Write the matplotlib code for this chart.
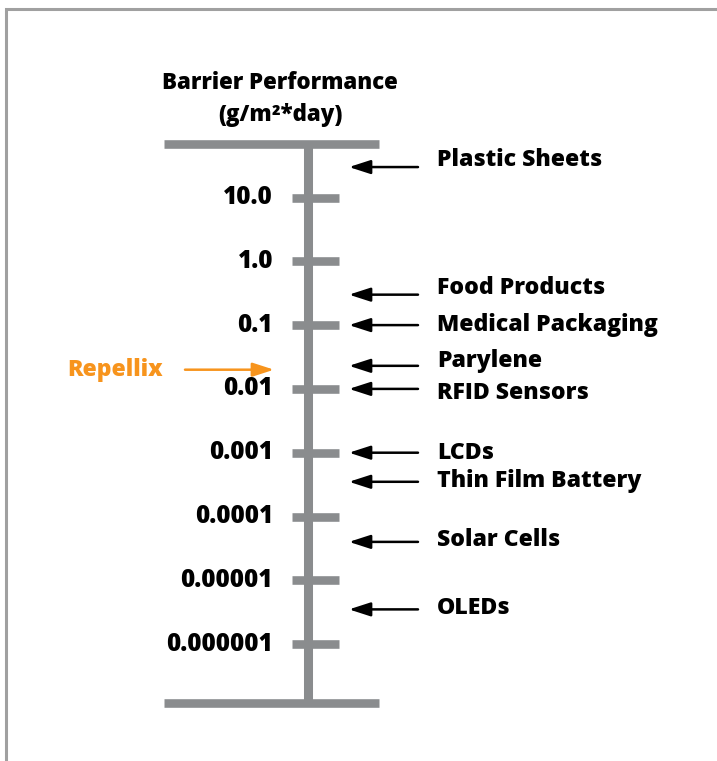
import matplotlib
matplotlib.use("Agg")
import matplotlib.pyplot as plt
from matplotlib.patches import Rectangle

# ---- data ----
scale_ticks = [10, 1, 0.1, 0.01, 0.001, 1e-4, 1e-5, 1e-6]
tick_labels = ["10.0", "1.0", "0.1", "0.01", "0.001", "0.0001", "0.00001", "0.000001"]
applications = ["Plastic Sheets", "Food Products", "Medical Packaging", "Parylene",
                "RFID Sensors", "LCDs", "Thin Film Battery", "Solar Cells", "OLEDs"]
app_values = [30, 0.3, 0.1, 0.023, 0.01, 0.001, 0.00035, 4e-5, 3.5e-6]
repellix_label = "Repellix"
repellix_value = 0.02
title_lines = ["Barrier Performance", "(g/m²*day)"]

# ---- style ----
W, H = 717, 761
GRAY = "#8a8c8e"
ORANGE = "#f7941d"
FONT = ["Open Sans", "DejaVu Sans"]
FS = 16.6
FS_TICK = 17.5
FS_TITLE = 16.0
WEIGHT = 800
ARROW = "-|>,head_length=1.3,head_width=0.42"
label_dy = [-7, -7, 0, -5, 4, 0, -1, -2, -1]  # pixel offsets of labels vs arrows

fig = plt.figure(figsize=(W / 100, H / 100), dpi=100)
ax = fig.add_axes([0, 0, 1, 1])
ax.set_yscale("log")
ax.set_xlim(0, W)
dec = 63.8
top_log = 1 + 197.5 / dec
bot_log = 1 - (H - 197.5) / dec
ax.set_ylim(10 ** bot_log, 10 ** top_log)
ax.axis("off")

# frame border
fig.patches.append(Rectangle((6 / W, -0.2), 1.2, 1.2 - 9 / H, transform=fig.transFigure,
                             fill=False, edgecolor="#a0a0a0", linewidth=2.2))

# scale structure
top_v = 10 ** (1 + (197.5 - 144) / dec)
bot_v = 10 ** (1 - (703.3 - 197.5) / dec)
ax.plot([307.5, 307.5], [bot_v, top_v], color=GRAY, lw=6.5, solid_capstyle="butt")
ax.plot([164, 379], [top_v, top_v], color=GRAY, lw=6.2, solid_capstyle="butt")
ax.plot([164, 379], [bot_v, bot_v], color=GRAY, lw=6.2, solid_capstyle="butt")
for v, lab in zip(scale_ticks, tick_labels):
    ax.plot([292, 339], [v, v], color=GRAY, lw=6.2, solid_capstyle="butt")
    ax.text(273, v, lab, ha="right", va="center", fontsize=FS_TICK, fontweight=WEIGHT,
            family=FONT, color="black")

# applications
for name, v, dy in zip(applications, app_values, label_dy):
    ax.annotate("", xy=(349, v), xytext=(418, v),
                arrowprops=dict(arrowstyle=ARROW, color="black", lw=1.8,
                                shrinkA=0, shrinkB=0))
    ax.annotate(name, xy=(437, v), xytext=(0, -dy), textcoords="offset pixels",
                ha="left", va="center", fontsize=FS, fontweight=WEIGHT,
                family=FONT, color="black")

# Repellix
ax.annotate("", xy=(274, repellix_value), xytext=(185, repellix_value),
            arrowprops=dict(arrowstyle=ARROW, color=ORANGE, lw=1.8,
                            shrinkA=0, shrinkB=0))
ax.text(67, repellix_value, repellix_label, ha="left", va="center", fontsize=FS,
        fontweight=WEIGHT, family=FONT, color=ORANGE)

# title
fig.text(280 / W, 1 - 83 / H, title_lines[0], ha="center", va="center", fontsize=FS_TITLE,
         fontweight=WEIGHT, family=FONT)
fig.text(280 / W, 1 - 115 / H, title_lines[1], ha="center", va="center", fontsize=FS_TITLE,
         fontweight=WEIGHT, family=FONT)

fig.savefig("out.png", dpi=100, facecolor="white")
